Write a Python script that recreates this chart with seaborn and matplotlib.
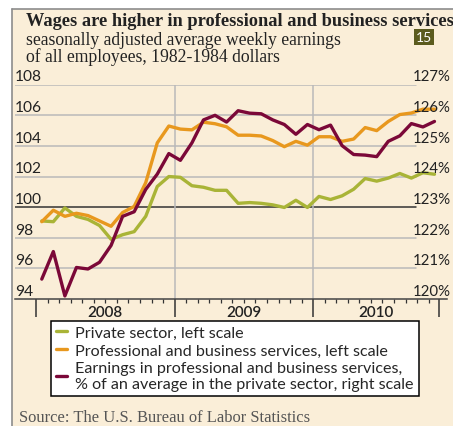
import numpy as np
import pandas as pd
import seaborn as sns
import matplotlib.pyplot as plt
from matplotlib.lines import Line2D
from matplotlib.patches import Rectangle
import matplotlib.transforms as mtransforms

# monthly index, Jan 2008 .. Nov 2010
months = np.arange(35)
years = ['2008', '2009', '2010']
year_starts = [-0.5, 11.5, 23.5]
axis_end = 34.4

private = [99.1, 99.05, 99.95, 99.4, 99.2, 98.8, 97.9, 98.2, 98.4, 99.4,
           101.35, 102.0, 101.95, 101.4, 101.3, 101.1, 101.1, 100.25, 100.3, 100.25,
           100.15, 99.98, 100.45, 99.98, 100.7, 100.5, 100.74, 101.17, 101.87, 101.7,
           101.9, 102.2, 101.9, 102.25, 102.15]
professional = [99.05, 99.8, 99.4, 99.6, 99.45, 99.1, 98.75, 99.65, 100.05, 101.6,
                104.2, 105.3, 105.1, 105.05, 105.55, 105.45, 105.25, 104.7, 104.7, 104.65,
                104.35, 103.95, 104.3, 104.05, 104.6, 104.6, 104.3, 104.45, 105.2, 105.0,
                105.6, 106.05, 106.15, 106.4, 106.4]
ratio = [120.65, 121.55, 120.1, 121.03, 120.98, 121.2, 121.75, 122.7, 122.85, 123.58,
         124.08, 124.75, 124.53, 125.1, 125.85, 126.0, 125.78, 126.15, 126.07, 126.05,
         125.85, 125.7, 125.38, 125.7, 125.53, 125.68, 125.01, 124.72, 124.7, 124.65,
         125.15, 125.33, 125.73, 125.62, 125.8]

labels = ['Private sector, left scale',
          'Professional and business services, left scale',
          'Earnings in professional and business services,\n% of an average in the private sector, right scale']
colors = ['#a9b437', '#e8981e', '#7b0838']
left_ticks = list(range(94, 109, 2))
right_ticks = list(range(120, 128))

cream = '#faeed8'
grid_c = '#b9b9b9'
sans = ['Lato', 'DejaVu Sans']
serif = ['Liberation Serif', 'DejaVu Serif']

sns.set_theme(style='white')
plt.rcParams['font.family'] = sans

W, H = 453, 427
fig = plt.figure(figsize=(W / 100, H / 100), dpi=100, facecolor='white')

def px(x, y):
  return x / W, 1 - y / H

# cream panel with gray border on top and left
fig.patches.append(Rectangle(px(12, 427), (W - 12) / W, (427 - 10) / H, transform=fig.transFigure,
                             facecolor=cream, edgecolor='none', zorder=-10))
fig.add_artist(Line2D([12 / W, 12 / W], [0, 1 - 10 / H], color='#8c8c8c', lw=1.2))
fig.add_artist(Line2D([12 / W, 1], [1 - 10 / H, 1 - 10 / H], color='#8c8c8c', lw=1.2))

ax_l, ax_r, ax_t, ax_b = 15, 447, 85.7, 300
ax = fig.add_axes([ax_l / W, 1 - ax_b / H, (ax_r - ax_l) / W, (ax_b - ax_t) / H])
ax.patch.set_visible(False)
x0 = -0.5 - (36 - ax_l) / 11.55
x1 = x0 + (ax_r - ax_l) / 11.55
ax.set_xlim(x0, x1)
ax.set_ylim(94, 108)

df = pd.DataFrame({'month': np.tile(months, 2),
                   'value': private + professional,
                   'series': [labels[0]] * 35 + [labels[1]] * 35})
sns.lineplot(data=df, x='month', y='value', hue='series', palette=colors[:2], ax=ax,
             lw=2.4, legend=False, zorder=3)

ax2 = ax.twinx()
ax2.patch.set_visible(False)
ax2.set_ylim(120, 127)
ax2.set_xlim(x0, x1)
sns.lineplot(x=months, y=ratio, color=colors[2], ax=ax2, lw=2.4, zorder=3)

# gridlines stop short of the right-hand labels
gfrac = (416 - ax_l) / (ax_r - ax_l)
for v in left_ticks[1:]:
  ax.axhline(v, xmin=0, xmax=gfrac, color='#333333' if v == 100 else grid_c,
             lw=1.1, zorder=1)
for s in year_starts[1:]:
  ax.plot([s, s], [94, 108], color=grid_c, lw=1.1, zorder=1)

for a in (ax, ax2):
  for sp in a.spines.values():
    sp.set_visible(False)
  a.set_yticks([])
  a.set_xlabel('')
  a.set_ylabel('')
ax2.set_xticks([])
ax.spines['bottom'].set_visible(True)
ax.spines['bottom'].set_color('#444444')
ax.spines['bottom'].set_linewidth(1.1)

ax.set_xticks(year_starts + [axis_end])
ax.set_xticklabels([])
ax.set_xticks(np.arange(-0.5, 34, 1), minor=True)
ax.tick_params(axis='x', which='major', direction='out', length=13, width=1.1, color='#333333', bottom=True)
ax.tick_params(axis='x', which='minor', direction='out', length=3, width=0.9, color='#333333', bottom=True)

ends = year_starts + [axis_end]
for i, y in enumerate(years):
  ax.text((ends[i] + ends[i + 1]) / 2, -0.06, y, transform=mtransforms.blended_transform_factory(ax.transData, ax.transAxes),
          ha='center', va='center', fontsize=11, fontweight='semibold', color='#222222')

ybl = mtransforms.blended_transform_factory(ax.transAxes, ax.transData)
for v in left_ticks:
  ax.text(0, v + 0.08, str(v), transform=ybl, ha='left', va='bottom', fontsize=11.2, color='#222222')
# right-hand labels, kept just inside the picture edge
ybr = mtransforms.blended_transform_factory(fig.transFigure, ax2.transData)
for v in right_ticks:
  ax2.text(451 / W, v + 0.04, f'{v}%', transform=ybr, ha='right', va='bottom', fontsize=10.8,
           color='#222222', clip_on=False, zorder=2)

# titles
def fit(t, width):
  r = fig.canvas.get_renderer()
  t.set_fontsize(t.get_fontsize() * width / t.get_window_extent(r).width)

t1 = fig.text(*px(26, 26.5), 'Wages are higher in professional and business services', family=serif,
              fontweight='bold', fontsize=12, va='baseline', color='#222222')
t2 = fig.text(*px(26, 45), 'seasonally adjusted average weekly earnings', family=serif,
              fontsize=11, va='baseline', color='#222222')
t3 = fig.text(*px(26, 61.5), 'of all employees, 1982-1984 dollars', family=serif,
              fontsize=11, va='baseline', color='#222222')
fit(t1, 423)
fit(t2, 314)
t3.set_fontsize(t2.get_fontsize())
fig.text(*px(424, 38), '15', ha='center', va='center', fontsize=10, color='white',
         bbox=dict(facecolor='#5b5b1e', edgecolor='none', boxstyle='square,pad=0.15'))

src = fig.text(*px(19, 422), 'Source: The U.S. Bureau of Labor Statistics', family=serif,
               fontsize=10, va='baseline', color='#555555')
fit(src, 290)

# legend, sized so its box matches the reference width
handles = [Line2D([], [], color=c, lw=2.4) for c in colors]
def make_legend(fs):
  lg = fig.legend(handles, labels, loc='upper left', bbox_to_anchor=px(51, 322), fontsize=fs,
                  frameon=True, fancybox=False, edgecolor='black', facecolor='white', framealpha=1,
                  handlelength=0.7, handletextpad=0.5, borderpad=0.3, labelspacing=0.2,
                  borderaxespad=0)
  lg.get_frame().set_linewidth(1.1)
  return lg
leg = make_legend(10.5)
w = leg.get_window_extent(fig.canvas.get_renderer()).width
leg.remove()
leg = make_legend(10.5 * 370 / w)

fig.savefig('out.png', dpi=100, facecolor='white')
